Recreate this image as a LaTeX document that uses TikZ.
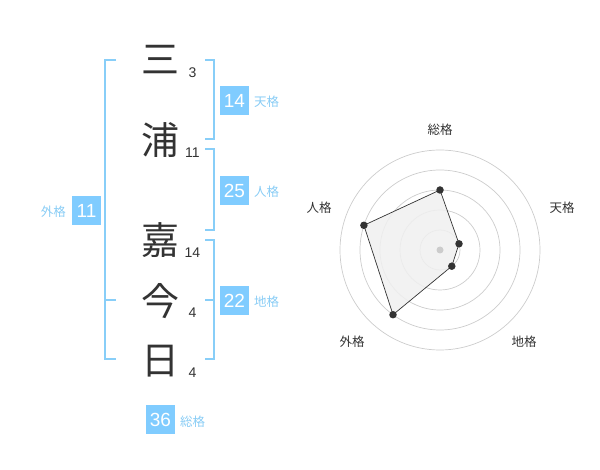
\documentclass[tikz,border=0pt]{standalone}
\usepackage{fontspec}
\setmainfont{Noto Sans CJK JP}
\newfontfamily\numfont{Liberation Sans}
\definecolor{textdark}{HTML}{333333}
\definecolor{boxblue}{HTML}{80CCFF}
\definecolor{lblblue}{HTML}{88CCF5}
\definecolor{brblue}{HTML}{88CEF8}
\definecolor{ringgray}{HTML}{CCCCCC}
\definecolor{polyfill}{HTML}{F0F0F0}
\begin{document}
\begin{tikzpicture}[x=1pt,y=-1pt,
  kanji/.style={font=\fontsize{38}{38}\selectfont, text=textdark, inner sep=0},
  strokes/.style={font=\numfont\fontsize{14}{14}\selectfont, text=textdark, inner sep=0},
  valbox/.style={fill=boxblue, text=white, minimum size=29pt, inner sep=0, font=\numfont\fontsize{19}{19}\selectfont},
  kaku/.style={font=\fontsize{12.5}{12.5}\selectfont, text=lblblue, inner sep=0},
  bracket/.style={draw=brblue, line width=2pt},
  ring/.style={draw=ringgray, line width=0.7pt},
  axislbl/.style={font=\fontsize{12.5}{12.5}\selectfont, text=textdark, inner sep=0},
  dot/.style={fill=textdark, circle, inner sep=0, minimum size=7.5pt}
]
\useasboundingbox (0,0) rectangle (600,470);

% characters
\node[kanji] (c1) at (160,60) {三};
\node[kanji] (c2) at (160,140) {浦};
\node[kanji] (c3) at (160,240) {嘉};
\node[kanji] (c4) at (160,301) {今};
\node[kanji] (c5) at (160,361) {日};
% stroke counts
\node[strokes] (n1) at (192.5,73) {3};
\node[strokes] (n2) at (192.5,153) {11};
\node[strokes] (n3) at (192.5,253) {14};
\node[strokes] (n4) at (192.5,313) {4};
\node[strokes] (n5) at (192.5,373) {4};

% brackets
\draw[bracket] (116,60) -- (105,60) -- (105,359) -- (116,359);
\draw[bracket] (105,300) -- (116,300);
\draw[bracket] (205,60) -- (214,60) -- (214,139) -- (205,139);
\draw[bracket] (205,149) -- (214,149) -- (214,230) -- (205,230);
\draw[bracket] (205,240) -- (214,240) -- (214,359) -- (205,359);
\draw[bracket] (205,300) -- (214,300);

% value boxes
\node[valbox] (ten) at (234.5,100.5) {14};
\node[kaku, anchor=west] (tenl) at (254,102) {天格};
\node[valbox] (jin) at (234.5,190.5) {25};
\node[kaku, anchor=west] (jinl) at (254,192) {人格};
\node[valbox] (chi) at (234.5,300.5) {22};
\node[kaku, anchor=west] (chil) at (254,302) {地格};
\node[valbox] (gai) at (86.5,210.5) {11};
\node[kaku, anchor=east] (gail) at (66,212) {外格};
\node[valbox] (sou) at (160.5,419.5) {36};
\node[kaku, anchor=west] (soul) at (180,422) {総格};

% radar chart
\coordinate (rc) at (440,250);
\foreach \r in {20,40,60,80,100} \draw[ring] (rc) circle[radius=\r];
\coordinate (ps) at (440,190);
\coordinate (pt) at (459.0,243.8);
\coordinate (pc) at (451.8,266.2);
\coordinate (pg) at (393.0,314.7);
\coordinate (pj) at (363.9,225.3);
\draw[fill=polyfill, fill opacity=0.85, draw=textdark, line width=0.7pt] (ps) -- (pt) -- (pc) -- (pg) -- (pj) -- cycle;
\fill[ringgray] (rc) circle[radius=3.5];
\foreach \p in {ps,pt,pc,pg,pj} \node[dot] at (\p) {};

\node[axislbl] (as) at (440,130) {総格};
\node[axislbl] (at) at (562,208) {天格};
\node[axislbl] (ac) at (524,342) {地格};
\node[axislbl] (ag) at (352,342) {外格};
\node[axislbl] (aj) at (319,208) {人格};
\end{tikzpicture}
\end{document}
